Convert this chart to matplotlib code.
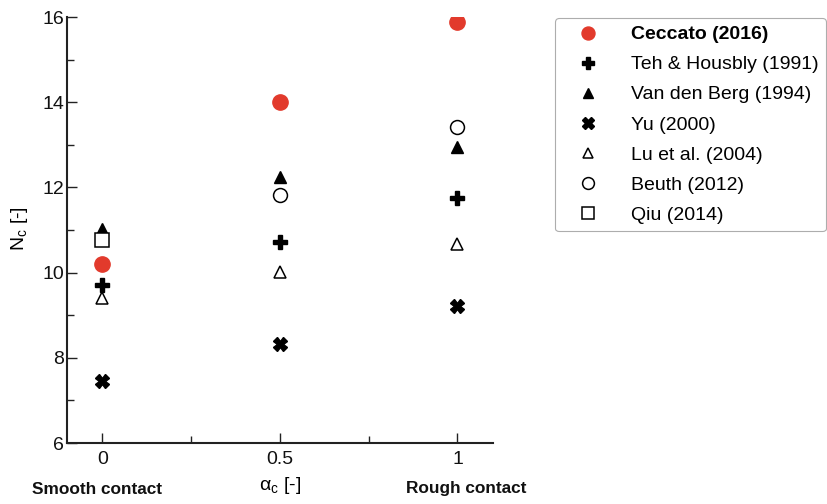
import matplotlib
matplotlib.use("Agg")
import matplotlib.pyplot as plt

plt.rcParams['font.family'] = ['Liberation Sans', 'DejaVu Sans']
plt.rcParams['mathtext.fontset'] = 'custom'
plt.rcParams['mathtext.rm'] = 'Liberation Sans'

alpha = [0, 0.5, 1]
ceccato = [10.2, 14.0, 15.88]
teh = [9.72, 10.72, 11.75]
vdberg = [11.02, 12.24, 12.95]
yu = [7.46, 8.32, 9.22]
lu = [9.4, 10.02, 10.68]
beuth_x = [0.5, 1]
beuth = [11.82, 13.42]
qiu_x = [0]
qiu = [10.77]

labels = ["Ceccato (2016)", "Teh & Housbly (1991)", "Van den Berg (1994)",
          "Yu (2000)", "Lu et al. (2004)", "Beuth (2012)", "Qiu (2014)"]

fig = plt.figure(figsize=(8.28, 5.04), dpi=100)
ax = fig.add_axes([67/828, 1-443/504, (493-67)/828, (443-17)/504])

h = []
h.append(ax.plot(alpha, ceccato, 'o', color='#e23a2c', ms=11, mec='#e23a2c', ls='none')[0])
h.append(ax.plot(alpha, teh, 'P', color='black', ms=10, ls='none')[0])
h.append(ax.plot(alpha, vdberg, '^', color='black', ms=8, ls='none')[0])
h.append(ax.plot(alpha, yu, 'X', color='black', ms=10, ls='none')[0])
h.append(ax.plot(alpha, lu, '^', mfc='white', mec='black', ms=9, mew=1.1, ls='none')[0])
h.append(ax.plot(beuth_x, beuth, 'o', mfc='white', mec='black', ms=10, mew=1.1, ls='none')[0])
h.append(ax.plot(qiu_x, qiu, 's', mfc='white', mec='black', ms=10, mew=1.1, ls='none')[0])

ax.set_xlim(-0.1, 1.1)
ax.set_ylim(6, 16)
ax.set_xticks([0, 0.5, 1])
ax.set_xticklabels(['0', '0.5', '1'])
ax.set_xticks([0.25, 0.75], minor=True)
ax.set_yticks([6, 8, 10, 12, 14, 16])
ax.set_yticks([7, 9, 11, 13, 15], minor=True)
ax.tick_params(which='both', direction='in', labelsize=14, width=1.0, color='#222222',
               labelcolor='#111111')
ax.tick_params(which='major', length=7)
ax.tick_params(which='minor', length=5)
ax.tick_params(axis='x', pad=6)
ax.tick_params(axis='y', pad=2)
for s in ['top', 'right']:
    ax.spines[s].set_visible(False)
for s in ['left', 'bottom']:
    ax.spines[s].set_linewidth(1.5)
    ax.spines[s].set_color('#222222')

fig.text(19/828, 1-229/504, r'N$_\mathrm{c}$ [-]', fontsize=14, rotation=90,
         ha='center', va='center')
fig.text(280/828, 1-486/504, r'$\mathrm{\alpha_c}$ [-]', fontsize=14, ha='center', va='center')
fig.text(97/828, 1-490/504, 'Smooth contact', fontsize=12.4, fontweight='bold',
         ha='center', va='center', color='#111111')
fig.text(466/828, 1-488/504, 'Rough contact', fontsize=12.4, fontweight='bold',
         ha='center', va='center', color='#111111')

leg = fig.legend(h, labels, loc='upper left', bbox_to_anchor=(555/828, 1-18/504),
                 borderaxespad=0, fontsize=14, frameon=True, fancybox=True,
                 labelspacing=0.64, handlelength=2.6, handletextpad=0.9,
                 borderpad=0.4, markerscale=0.85)
leg.get_frame().set_edgecolor('#999999')
leg.get_frame().set_linewidth(0.8)
leg.get_texts()[0].set_fontweight('bold')

fig.savefig('out.png', dpi=100)
